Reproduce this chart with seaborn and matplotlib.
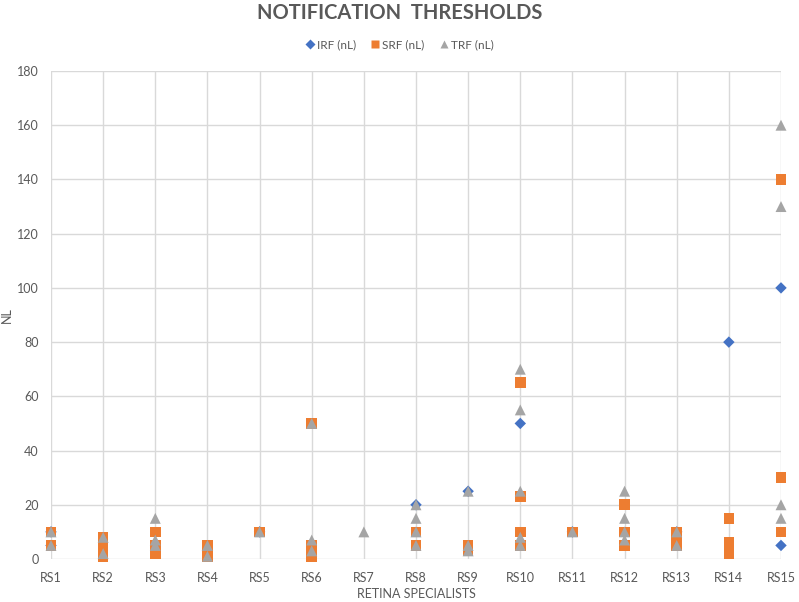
import matplotlib
matplotlib.use("Agg")
import matplotlib.pyplot as plt
import seaborn as sns
import pandas as pd
from matplotlib.lines import Line2D

categories = [f"RS{i}" for i in range(1, 16)]

irf_rs = ["RS1", "RS1", "RS4", "RS5", "RS8", "RS9", "RS10", "RS11", "RS13", "RS14", "RS15", "RS15"]
irf_nl = [10, 5, 3, 10, 20, 25, 50, 10, 10, 80, 100, 5]

srf_rs = ["RS1", "RS1", "RS2", "RS2", "RS2", "RS3", "RS3", "RS3", "RS4", "RS4", "RS5",
          "RS6", "RS6", "RS6", "RS8", "RS8", "RS9", "RS9", "RS10", "RS10", "RS10", "RS10",
          "RS11", "RS12", "RS12", "RS12", "RS13", "RS13", "RS13", "RS14", "RS14", "RS14",
          "RS15", "RS15", "RS15"]
srf_nl = [10, 5, 8, 5, 1, 10, 5, 2, 5, 1, 10,
          50, 5, 1, 10, 5, 5, 3, 65, 23, 10, 5,
          10, 20, 10, 5, 10, 7, 5, 15, 6, 2,
          140, 30, 10]

trf_rs = ["RS1", "RS1", "RS2", "RS2", "RS3", "RS3", "RS3", "RS4", "RS4", "RS5",
          "RS6", "RS6", "RS6", "RS7", "RS8", "RS8", "RS8", "RS8", "RS9", "RS9", "RS9",
          "RS10", "RS10", "RS10", "RS10", "RS10", "RS11", "RS12", "RS12", "RS12", "RS12",
          "RS13", "RS13", "RS15", "RS15", "RS15", "RS15"]
trf_nl = [10, 5, 8, 2, 15, 7, 5, 5, 1, 10,
          50, 7, 3, 10, 20, 15, 10, 5, 25, 5, 3,
          70, 55, 25, 8, 5, 10, 25, 15, 10, 7,
          10, 5, 160, 130, 20, 15]

series_names = ["IRF (nL)", "SRF (nL)", "TRF (nL)"]
colors = {"IRF (nL)": "#4472C4", "SRF (nL)": "#ED7D31", "TRF (nL)": "#A5A5A5"}
markers = {"IRF (nL)": "D", "SRF (nL)": "s", "TRF (nL)": "^"}
sizes = {"IRF (nL)": 34, "SRF (nL)": 58, "TRF (nL)": 62}

df = pd.concat([
    pd.DataFrame({"rs": irf_rs, "nl": irf_nl, "series": "IRF (nL)"}),
    pd.DataFrame({"rs": srf_rs, "nl": srf_nl, "series": "SRF (nL)"}),
    pd.DataFrame({"rs": trf_rs, "nl": trf_nl, "series": "TRF (nL)"}),
], ignore_index=True)
df["rs"] = pd.Categorical(df["rs"], categories=categories, ordered=True)

sns.set_style("white")
plt.rcParams["font.family"] = ["Lato", "DejaVu Sans"]

fig = plt.figure(figsize=(7.99, 6.02), dpi=100)
ax = fig.add_axes([51 / 799, 1 - 559 / 602, (781 - 51) / 799, (559 - 71) / 602])

ax.set_axisbelow(True)
for v in range(0, 181, 20):
    ax.axhline(v, color="#D9D9D9", lw=1.0, zorder=0)
for i in range(len(categories)):
    ax.axvline(i, color="#D9D9D9", lw=1.0, zorder=0)

for name in series_names:
    sub = df[df["series"] == name].copy()
    sub["x"] = sub["rs"].cat.codes
    sns.scatterplot(data=sub, x="x", y="nl", color=colors[name], marker=markers[name],
                    s=sizes[name], edgecolor="none", linewidth=0, ax=ax, zorder=3,
                    clip_on=False, legend=False)

ax.set_xlim(0, len(categories) - 1)
ax.set_ylim(0, 180)
ax.set_yticks(range(0, 181, 20))
ax.set_xticks(range(len(categories)))
ax.set_xticklabels(categories)
for s in ax.spines.values():
    s.set_visible(False)
ax.tick_params(axis="both", length=0, labelsize=9, colors="#595959")
ax.tick_params(axis="x", pad=9)
ax.tick_params(axis="y", pad=9)
ax.set_xlabel("RETINA SPECIALISTS", fontsize=9, color="#595959", labelpad=3)
ax.set_ylabel("NL", fontsize=9, color="#595959")
ax.yaxis.set_label_coords((13 - 51) / 730, 0.5)

fig.text(0.5, 1 - 13 / 602, "NOTIFICATION  THRESHOLDS", ha="center", va="center",
         fontsize=14.5, fontweight="bold", color="#595959")

handles = [Line2D([0], [0], marker=markers[n], color="none", markerfacecolor=colors[n],
                  markeredgecolor="none", markersize={"IRF (nL)": 5, "SRF (nL)": 6, "TRF (nL)": 6}[n])
           for n in series_names]
leg = fig.legend(handles, series_names, loc="center", bbox_to_anchor=(0.5, 1 - 45 / 602),
                 ncol=3, frameon=False, fontsize=8.5, handlelength=0.8, handletextpad=0.2,
                 columnspacing=1.2, labelcolor="#595959")

fig.savefig("out.png", dpi=100)
